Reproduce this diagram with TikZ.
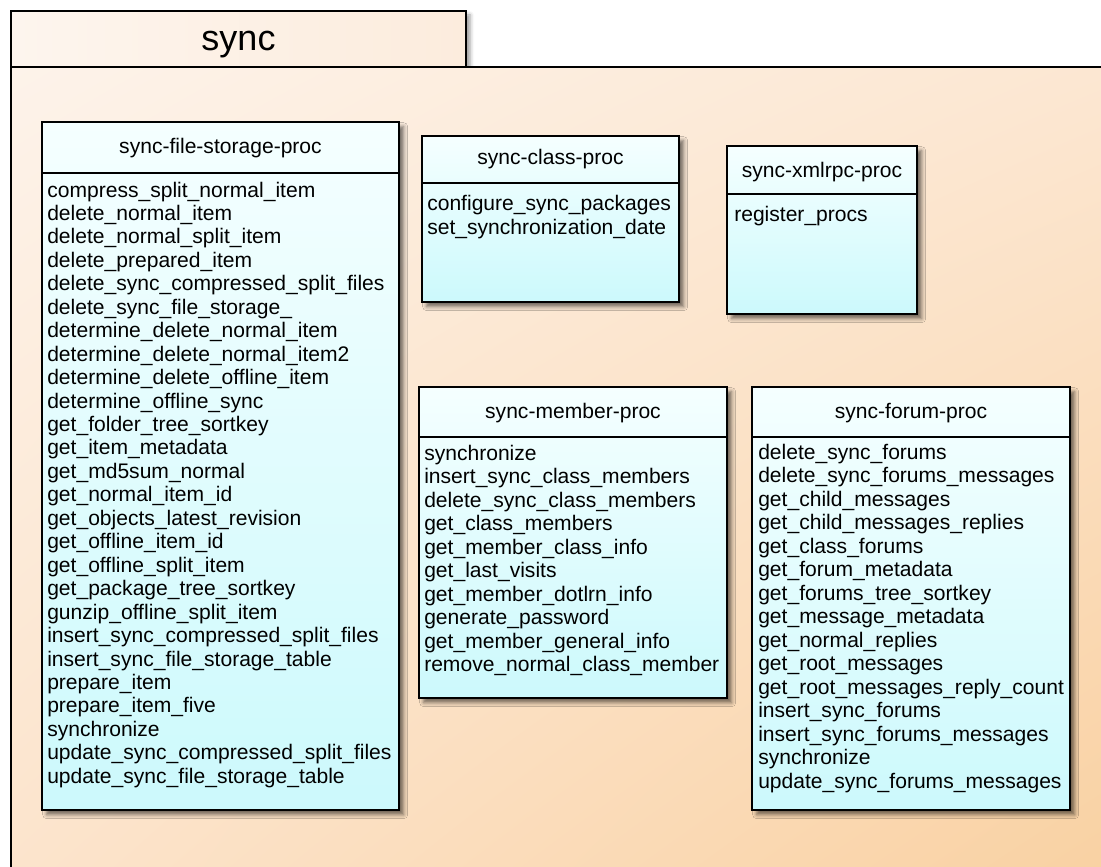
\documentclass[tikz,border=0pt]{standalone}
\usepackage{fontspec}
\setmainfont{Liberation Sans}
\usetikzlibrary{shadings,shadows.blur}

\definecolor{pkgul}{RGB}{253,243,234}
\definecolor{pkgur}{RGB}{252,231,210}
\definecolor{pkgll}{RGB}{252,228,204}
\definecolor{pkglr}{RGB}{249,209,162}
\definecolor{tableft}{RGB}{253,245,238}
\definecolor{tabright}{RGB}{252,236,221}
\definecolor{boxtop}{RGB}{245,255,255}
\definecolor{boxbottom}{RGB}{204,249,252}

\begin{document}
\begin{tikzpicture}[x=0.75pt, y=-0.75pt,
    frameline/.style={line width=1.5pt},
    procbox/.style={frameline, top color=boxtop, bottom color=boxbottom,
        blur shadow={shadow xshift=3.5pt, shadow yshift=-3.5pt,
            shadow blur radius=3pt, shadow opacity=55}},
    proctitle/.style={anchor=base, inner sep=0pt, font=\fontsize{15.8}{17.5}\selectfont},
    procop/.style={anchor=base west, inner sep=0pt, font=\fontsize{15.8}{17.5}\selectfont}]
    \useasboundingbox (0,0) rectangle (1101,867);
    \clip (0,0) rectangle (1101,867);

    % the package tab
    \shade[left color=tableft, right color=tabright,
        blur shadow={shadow xshift=3pt, shadow yshift=-3pt,
            shadow blur radius=3pt, shadow opacity=40}]
        (11,11) rectangle (466,67);
    % the package body
    \shade[upper left=pkgul, upper right=pkgur, lower left=pkgll, lower right=pkglr]
        (11,67) rectangle (1110,880);
    \draw[frameline] (11,67) -- (11,11) -- (466,11) -- (466,67);
    \draw[frameline] (11,880) -- (11,67) -- (1110,67);
    \node[anchor=base, inner sep=0pt, font=\fontsize{27}{30}\selectfont] (pkgname) at (238.5,51) {sync};

    % sync-file-storage-proc
    \draw[procbox] (42,122) rectangle (399,810);
    \draw[frameline] (42,173) -- (399,173);
    \node[proctitle] (fsname) at (220.5,154) {sync-file-storage-proc};
    \foreach \op [count=\i] in {compress\_split\_normal\_item, delete\_normal\_item,
        delete\_normal\_split\_item, delete\_prepared\_item,
        delete\_sync\_compressed\_split\_files, delete\_sync\_file\_storage\_,
        determine\_delete\_normal\_item, determine\_delete\_normal\_item2,
        determine\_delete\_offline\_item, determine\_offline\_sync,
        get\_folder\_tree\_sortkey, get\_item\_metadata, get\_md5sum\_normal,
        get\_normal\_item\_id, get\_objects\_latest\_revision, get\_offline\_item\_id,
        get\_offline\_split\_item, get\_package\_tree\_sortkey,
        gunzip\_offline\_split\_item, insert\_sync\_compressed\_split\_files,
        insert\_sync\_file\_storage\_table, prepare\_item, prepare\_item\_five,
        synchronize, update\_sync\_compressed\_split\_files,
        update\_sync\_file\_storage\_table}
        \node[procop] (fs-\i) at (47,{197+23.45*(\i-1)}) {\op};

    % sync-class-proc
    \draw[procbox] (422,136) rectangle (679,302);
    \draw[frameline] (422,183) -- (679,183);
    \node[proctitle] (clsname) at (550.5,165) {sync-class-proc};
    \foreach \op [count=\i] in {configure\_sync\_packages, set\_synchronization\_date}
        \node[procop] (cls-\i) at (427,{210+24*(\i-1)}) {\op};

    % sync-xmlrpc-proc
    \draw[procbox] (727,146) rectangle (917,314);
    \draw[frameline] (727,194) -- (917,194);
    \node[proctitle] (xmlname) at (822,178) {sync-xmlrpc-proc};
    \node[procop] (xml-1) at (734,221) {register\_procs};

    % sync-member-proc
    \draw[procbox] (419,387) rectangle (727,698);
    \draw[frameline] (419,437) -- (727,437);
    \node[proctitle] (memname) at (573,418) {sync-member-proc};
    \foreach \op [count=\i] in {synchronize, insert\_sync\_class\_members,
        delete\_sync\_class\_members, get\_class\_members, get\_member\_class\_info,
        get\_last\_visits, get\_member\_dotlrn\_info, generate\_password,
        get\_member\_general\_info, remove\_normal\_class\_member}
        \node[procop] (mem-\i) at (424,{460+23.5*(\i-1)}) {\op};

    % sync-forum-proc
    \draw[procbox] (752,387) rectangle (1070,810);
    \draw[frameline] (752,437) -- (1070,437);
    \node[proctitle] (frmname) at (911,418) {sync-forum-proc};
    \foreach \op [count=\i] in {delete\_sync\_forums, delete\_sync\_forums\_messages,
        get\_child\_messages, get\_child\_messages\_replies, get\_class\_forums,
        get\_forum\_metadata, get\_forums\_tree\_sortkey, get\_message\_metadata,
        get\_normal\_replies, get\_root\_messages, get\_root\_messages\_reply\_count,
        insert\_sync\_forums, insert\_sync\_forums\_messages, synchronize,
        update\_sync\_forums\_messages}
        \node[procop] (frm-\i) at (758,{459+23.5*(\i-1)}) {\op};
\end{tikzpicture}
\end{document}
